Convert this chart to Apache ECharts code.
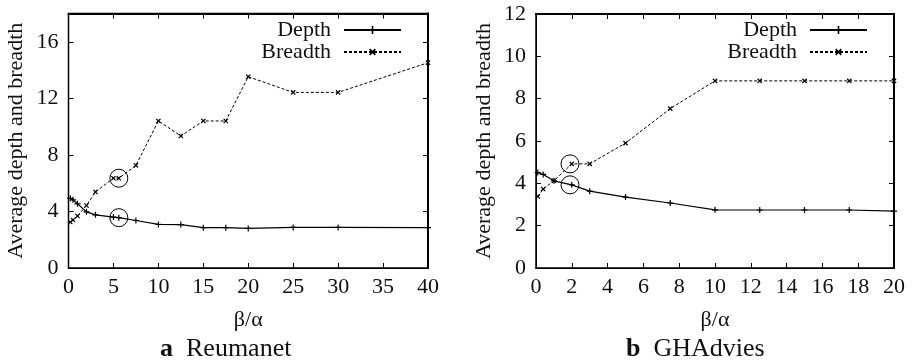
<!DOCTYPE html>
<html lang="en">

<head>
    <meta charset="UTF-8">
    <title>Average depth and breadth</title>
    <script src="https://cdn.jsdelivr.net/npm/echarts@6/dist/echarts.min.js"></script>
    <style>
        body {
            margin: 0;
        }

        #root {
            width: 913px;
            height: 362px;
        }
    </style>
</head>

<body>

    <div id="root"></div>
    <script>

        // (a) Reumanet
        var reumanetX = [0.2, 0.5, 1, 2, 3, 5, 5.6, 7.5, 10, 12.5, 15, 17.5, 20, 25, 30, 40];
        var reumanetDepth = [4.93, 4.82, 4.54, 3.97, 3.76, 3.6, 3.56, 3.36, 3.08, 3.07, 2.85, 2.85, 2.8, 2.87, 2.87, 2.85];
        var reumanetBreadth = [3.25, 3.4, 3.68, 4.42, 5.38, 6.35, 6.35, 7.26, 10.4, 9.34, 10.4, 10.4, 13.53, 12.42, 12.42, 14.52];
        var reumanetCircles = [[5.6, 6.35], [5.6, 3.56]];

        // (b) GHAdvies
        var ghadviesX = [0.1, 0.4, 1, 2, 3, 5, 7.5, 10, 12.5, 15, 17.5, 20];
        var ghadviesDepth = [4.51, 4.42, 4.12, 3.93, 3.63, 3.35, 3.07, 2.75, 2.74, 2.74, 2.74, 2.69];
        var ghadviesBreadth = [3.38, 3.73, 4.12, 4.92, 4.92, 5.9, 7.53, 8.84, 8.84, 8.84, 8.84, 8.84];
        var ghadviesCircles = [[1.9, 4.92], [1.9, 3.93]];

        var font = "'Liberation Serif', 'DejaVu Serif', serif";
        var ink = '#111';
        var size = 22;
        // filled "+" shape; rotated 45 deg it becomes the "x" marker
        var plus = 'path://M4,0h2v4h4v2h-4v4h-2v-4h-4v-2h4z';

        function pairs(xs, ys) {
            return xs.map(function (x, i) { return [x, ys[i]]; });
        }

        function axisBase(grid, max, step, lineWidth) {
            return {
                show: true, gridIndex: grid, type: 'value', min: 0, max: max, interval: step,
                splitLine: { show: false },
                axisLine: { show: true, onZero: false, lineStyle: { color: '#000', width: lineWidth } },
                axisTick: { show: true, inside: true, length: 5, lineStyle: { color: '#000', width: 1 } }
            };
        }

        // mirror axes only carry ticks; labels kept but transparent
        var ghostLabel = { show: true, color: 'rgba(0,0,0,0)', fontSize: 8, margin: 2 };

        function xAxes(grid, max, step) {
            return [
                Object.assign(axisBase(grid, max, step, 1), {
                    position: 'bottom',
                    name: 'β/α', nameLocation: 'middle', nameGap: 41,
                    nameTextStyle: { fontFamily: font, fontSize: size, color: ink },
                    axisLabel: { margin: 8, fontFamily: font, fontSize: size, color: ink }
                }),
                Object.assign(axisBase(grid, max, step, 2), { position: 'top', axisLabel: ghostLabel })
            ];
        }

        function yAxes(grid, max, step) {
            return [
                Object.assign(axisBase(grid, max, step, 1), {
                    position: 'left',
                    name: 'Average depth and breadth', nameLocation: 'middle', nameGap: 41,
                    nameTextStyle: { fontFamily: font, fontSize: size, color: ink },
                    axisLabel: { margin: 10, fontFamily: font, fontSize: size, color: ink, showMaxLabel: max % step === 0 }
                }),
                Object.assign(axisBase(grid, max, step, 2), { position: 'right', axisLabel: ghostLabel })
            ];
        }

        function depthSeries(axis, data, circles) {
            return {
                name: 'Depth', type: 'line', xAxisIndex: axis, yAxisIndex: axis,
                data: data, symbol: plus, symbolSize: 6,
                itemStyle: { color: '#000' },
                lineStyle: { color: '#000', width: 1.2 },
                emphasis: { disabled: true },
                markPoint: {
                    symbol: 'circle', symbolSize: 18, silent: true,
                    itemStyle: { color: 'rgba(0,0,0,0)', borderColor: '#000', borderWidth: 1 },
                    label: { show: false },
                    data: circles.map(function (c) { return { coord: c }; })
                }
            };
        }

        function breadthSeries(axis, data) {
            return {
                name: 'Breadth', type: 'line', xAxisIndex: axis, yAxisIndex: axis,
                data: data, symbol: plus, symbolSize: 6, symbolRotate: 45,
                itemStyle: { color: '#000' },
                lineStyle: { color: '#000', width: 1, type: [3, 2] },
                emphasis: { disabled: true }
            };
        }

        function legend(right) {
            return {
                orient: 'vertical', align: 'right', right: right, top: 19,
                padding: 0, itemGap: 0, itemWidth: 57, itemHeight: 10,
                data: ['Depth', 'Breadth'],
                textStyle: { fontFamily: font, fontSize: size, color: ink, lineHeight: 22, padding: [0, 8, 0, 0] }
            };
        }

        function caption(letter, name, left) {
            return {
                text: '{b|' + letter + '}  ' + name, left: left, top: 336, padding: 0,
                textStyle: {
                    fontFamily: font, fontSize: 26, fontWeight: 'normal', color: ink,
                    rich: { b: { fontFamily: font, fontSize: 26, fontWeight: 'bold', color: ink } }
                }
            };
        }

        var chart = echarts.init(document.getElementById('root'));

        chart.setOption({
            animation: false,
            textStyle: { fontFamily: font },
            grid: [
                { show: true, borderColor: '#000', borderWidth: 1.5, outerBoundsMode: 'none', left: 68.5, right: 485, top: 13.5, bottom: 94 },
                { show: true, borderColor: '#000', borderWidth: 1.5, outerBoundsMode: 'none', left: 536, right: 19, top: 14, bottom: 94 }
            ],
            xAxis: xAxes(0, 40, 5).concat(xAxes(1, 20, 2)),
            yAxis: yAxes(0, 18, 4).concat(yAxes(1, 12, 2)),
            legend: [legend(511), legend(45)],
            title: [caption('a', 'Reumanet', 160), caption('b', 'GHAdvies', 626)],
            series: [
                depthSeries(0, pairs(reumanetX, reumanetDepth), reumanetCircles),
                breadthSeries(0, pairs(reumanetX, reumanetBreadth)),
                depthSeries(2, pairs(ghadviesX, ghadviesDepth), ghadviesCircles),
                breadthSeries(2, pairs(ghadviesX, ghadviesBreadth))
            ]
        });

    </script>

</body>

</html>
